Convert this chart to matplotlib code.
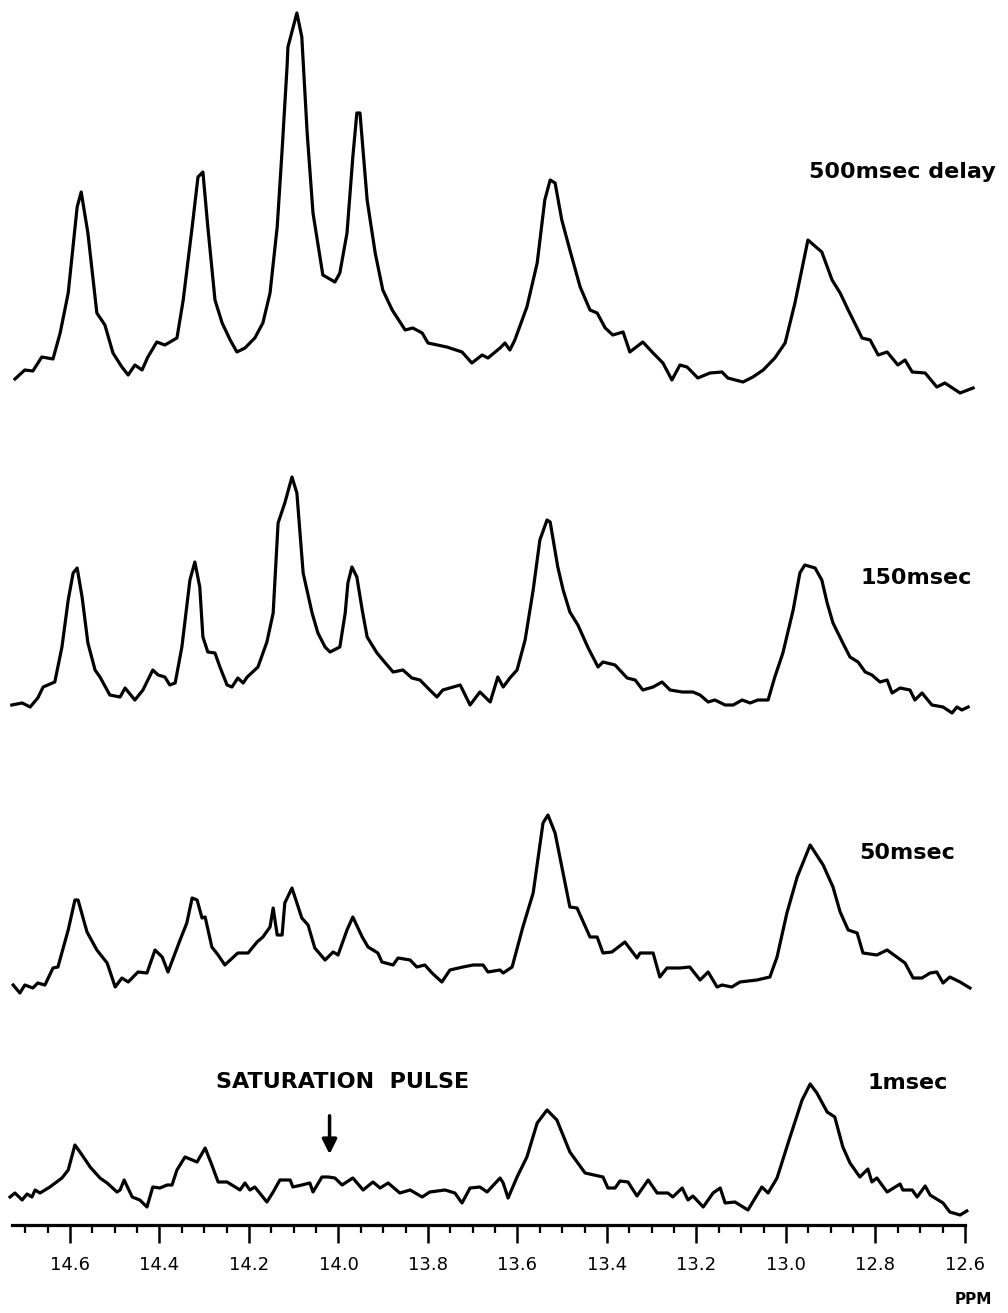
import matplotlib
matplotlib.use("Agg")
import matplotlib.pyplot as plt
from matplotlib.ticker import MultipleLocator, FormatStrFormatter

# chemical shift (ppm) and trace height for each saturation delay
ppm_500 = [14.723, 14.701, 14.683, 14.663, 14.638, 14.622, 14.604, 14.584, 14.575, 14.560,
           14.540, 14.522, 14.504, 14.484, 14.470, 14.455, 14.439, 14.426, 14.406, 14.388,
           14.361, 14.347, 14.327, 14.314, 14.303, 14.292, 14.276, 14.260, 14.242, 14.227,
           14.209, 14.187, 14.169, 14.153, 14.137, 14.126, 14.115, 14.113, 14.093, 14.082,
           14.070, 14.057, 14.035, 14.008, 13.997, 13.981, 13.968, 13.959, 13.952, 13.936,
           13.918, 13.901, 13.880, 13.851, 13.834, 13.813, 13.800, 13.758, 13.724, 13.702,
           13.679, 13.666, 13.639, 13.628, 13.617, 13.606, 13.579, 13.556, 13.539, 13.527,
           13.516, 13.501, 13.483, 13.460, 13.438, 13.422, 13.404, 13.387, 13.364, 13.349,
           13.320, 13.297, 13.275, 13.255, 13.237, 13.221, 13.197, 13.170, 13.143, 13.130,
           13.096, 13.074, 13.051, 13.025, 13.002, 12.980, 12.951, 12.920, 12.897, 12.879,
           12.861, 12.830, 12.812, 12.794, 12.774, 12.750, 12.734, 12.718, 12.689, 12.663,
           12.645, 12.611, 12.582]
int_500 = [11, 20, 19, 33, 31, 57, 97, 183, 198, 157,
           77, 65, 37, 23, 15, 25, 20, 33, 48, 45,
           52, 90, 163, 213, 218, 163, 90, 67, 50, 38,
           42, 52, 67, 97, 163, 240, 323, 343, 377, 353,
           257, 177, 115, 108, 117, 157, 233, 277, 277, 190,
           137, 100, 80, 60, 62, 57, 47, 43, 38, 27,
           35, 32, 42, 47, 40, 50, 83, 127, 190, 210,
           207, 170, 140, 103, 80, 77, 62, 55, 58, 38,
           48, 37, 27, 10, 25, 23, 12, 17, 18, 12,
           8, 13, 20, 32, 47, 87, 150, 138, 110, 97,
           80, 52, 50, 35, 38, 25, 30, 18, 17, 3,
           7, -3, 2]

ppm_150 = [14.730, 14.707, 14.689, 14.672, 14.660, 14.634, 14.618, 14.604, 14.593, 14.584,
           14.573, 14.560, 14.544, 14.533, 14.511, 14.488, 14.477, 14.455, 14.437, 14.415,
           14.403, 14.388, 14.377, 14.365, 14.350, 14.332, 14.321, 14.310, 14.303, 14.292,
           14.276, 14.265, 14.249, 14.238, 14.225, 14.213, 14.204, 14.180, 14.160, 14.146,
           14.135, 14.120, 14.104, 14.093, 14.079, 14.059, 14.046, 14.030, 14.019, 13.997,
           13.985, 13.979, 13.970, 13.959, 13.947, 13.936, 13.914, 13.901, 13.878, 13.856,
           13.836, 13.818, 13.796, 13.780, 13.767, 13.728, 13.706, 13.684, 13.661, 13.644,
           13.632, 13.617, 13.601, 13.583, 13.565, 13.550, 13.534, 13.527, 13.510, 13.498,
           13.483, 13.465, 13.442, 13.420, 13.409, 13.382, 13.355, 13.337, 13.320, 13.297,
           13.277, 13.259, 13.232, 13.208, 13.192, 13.174, 13.159, 13.136, 13.118, 13.098,
           13.080, 13.063, 13.040, 13.025, 13.007, 12.984, 12.969, 12.958, 12.935, 12.920,
           12.908, 12.895, 12.873, 12.857, 12.839, 12.823, 12.808, 12.790, 12.774, 12.763,
           12.745, 12.723, 12.712, 12.696, 12.674, 12.649, 12.629, 12.618, 12.607, 12.593]
int_150 = [5, 7, 3, 12, 23, 28, 63, 110, 137, 142,
           113, 67, 40, 33, 15, 13, 22, 10, 20, 40,
           35, 33, 25, 27, 63, 130, 148, 123, 73, 58,
           57, 43, 25, 23, 32, 27, 33, 43, 68, 97,
           187, 207, 233, 217, 137, 97, 77, 63, 58, 63,
           97, 127, 143, 133, 100, 73, 57, 50, 38, 40,
           32, 30, 20, 13, 20, 25, 5, 18, 8, 33,
           23, 32, 40, 70, 120, 170, 190, 188, 143, 120,
           98, 85, 62, 43, 48, 45, 32, 30, 20, 23,
           28, 20, 18, 18, 15, 8, 10, 5, 5, 10,
           7, 10, 10, 33, 57, 100, 137, 145, 142, 130,
           107, 87, 67, 53, 48, 38, 35, 28, 30, 17,
           22, 20, 10, 17, 5, 3, -3, 3, 0, 3]

ppm_50 = [14.727, 14.712, 14.701, 14.683, 14.672, 14.656, 14.638, 14.627, 14.604, 14.589,
          14.582, 14.562, 14.540, 14.517, 14.499, 14.484, 14.470, 14.448, 14.428, 14.410,
          14.394, 14.381, 14.354, 14.339, 14.327, 14.316, 14.305, 14.298, 14.283, 14.269,
          14.254, 14.225, 14.202, 14.182, 14.169, 14.153, 14.146, 14.137, 14.126, 14.120,
          14.104, 14.082, 14.068, 14.053, 14.030, 14.012, 14.001, 13.981, 13.968, 13.947,
          13.934, 13.912, 13.903, 13.878, 13.867, 13.840, 13.825, 13.807, 13.791, 13.769,
          13.751, 13.722, 13.699, 13.677, 13.666, 13.639, 13.632, 13.612, 13.588, 13.565,
          13.543, 13.532, 13.516, 13.483, 13.467, 13.438, 13.422, 13.409, 13.389, 13.360,
          13.333, 13.326, 13.297, 13.282, 13.266, 13.237, 13.215, 13.192, 13.174, 13.154,
          13.143, 13.121, 13.103, 13.065, 13.036, 13.020, 12.998, 12.975, 12.946, 12.917,
          12.895, 12.879, 12.861, 12.841, 12.828, 12.797, 12.774, 12.734, 12.716, 12.696,
          12.678, 12.663, 12.649, 12.634, 12.611, 12.589]
int_50 = [5, -3, 5, 2, 7, 5, 22, 23, 60, 90,
          90, 58, 40, 27, 3, 12, 8, 18, 17, 40,
          33, 18, 50, 67, 92, 90, 72, 73, 43, 35,
          25, 37, 37, 48, 53, 63, 82, 55, 55, 87,
          102, 72, 65, 42, 30, 38, 35, 60, 73, 53,
          43, 37, 28, 25, 32, 30, 23, 25, 17, 8,
          20, 23, 25, 25, 18, 20, 17, 23, 63, 97,
          167, 175, 157, 83, 82, 53, 53, 37, 38, 48,
          32, 37, 37, 13, 22, 22, 23, 10, 18, 3,
          5, 3, 8, 10, 13, 33, 77, 113, 145, 125,
          103, 78, 60, 57, 37, 35, 40, 27, 12, 12,
          17, 18, 7, 13, 8, 2]

ppm_1 = [14.734, 14.723, 14.707, 14.696, 14.685, 14.678, 14.667, 14.645, 14.618, 14.604,
         14.589, 14.573, 14.555, 14.533, 14.517, 14.495, 14.488, 14.479, 14.461, 14.444,
         14.428, 14.415, 14.399, 14.383, 14.372, 14.361, 14.343, 14.316, 14.298, 14.283,
         14.269, 14.249, 14.220, 14.209, 14.198, 14.187, 14.160, 14.146, 14.131, 14.108,
         14.102, 14.082, 14.064, 14.057, 14.037, 14.023, 14.008, 13.992, 13.968, 13.945,
         13.923, 13.907, 13.889, 13.863, 13.840, 13.813, 13.796, 13.762, 13.740, 13.724,
         13.706, 13.684, 13.668, 13.639, 13.632, 13.621, 13.601, 13.579, 13.556, 13.534,
         13.512, 13.483, 13.449, 13.409, 13.398, 13.382, 13.371, 13.353, 13.333, 13.308,
         13.288, 13.264, 13.253, 13.232, 13.219, 13.208, 13.185, 13.163, 13.147, 13.136,
         13.114, 13.085, 13.054, 13.040, 13.020, 12.991, 12.964, 12.946, 12.931, 12.908,
         12.891, 12.873, 12.857, 12.835, 12.817, 12.808, 12.797, 12.774, 12.745, 12.739,
         12.718, 12.707, 12.689, 12.678, 12.649, 12.634, 12.611, 12.596]
int_1 = [8, 12, 5, 11, 8, 15, 12, 18, 27, 35,
         60, 50, 38, 27, 22, 13, 15, 25, 8, 5,
         -2, 18, 17, 20, 20, 35, 48, 43, 57, 40,
         23, 23, 15, 22, 15, 18, 3, 13, 25, 25,
         18, 20, 22, 13, 28, 28, 27, 20, 27, 15,
         23, 17, 22, 12, 15, 8, 13, 15, 12, 2,
         17, 18, 13, 27, 22, 7, 28, 48, 82, 95,
         85, 53, 32, 28, 17, 17, 24, 23, 9, 25,
         12, 12, 8, 17, 5, 9, -2, 12, 17, 2,
         3, -5, 18, 12, 27, 68, 105, 121, 112, 93,
         88, 58, 42, 28, 36, 23, 27, 13, 21, 15,
         15, 8, 19, 10, 2, -7, -10, -6]

labels = ["500msec delay", "150msec", "50msec", "1msec"]
major_ticks = [14.6, 14.4, 14.2, 14.0, 13.8, 13.6, 13.4, 13.2, 13.0, 12.8, 12.6]
pulse_ppm = 14.02


def main():
    fig = plt.figure(figsize=(10.08, 13.13), dpi=100)
    ax = fig.add_axes([12 / 1008, 88 / 1313, 953 / 1008, 1225 / 1313])

    traces = [(ppm_500, int_500), (ppm_150, int_150), (ppm_50, int_50), (ppm_1, int_1)]
    offsets = [835, 515, 235, 20]
    label_y = [1053, 647, 372, 142]
    label_x = [12.739, 12.709, 12.730, 12.727]

    for (x, y), off, lab, lx, ly in zip(traces, offsets, labels, label_x, label_y):
        ax.plot(x, [v + off for v in y], color="black", lw=2.3,
                solid_joinstyle="round", clip_on=False)
        ax.text(lx, ly, lab, ha="center", va="center", fontsize=16,
                fontweight="bold")

    ax.text(13.992, 143, "SATURATION  PULSE", ha="center", va="center",
            fontsize=16, fontweight="bold")
    ax.annotate("", xy=(pulse_ppm, 68), xytext=(pulse_ppm, 112),
                arrowprops=dict(arrowstyle="-|>", color="black", lw=2.5,
                                mutation_scale=22))

    ax.set_xlim(14.7296, 12.6)
    ax.set_ylim(0, 1225)
    for side in ["top", "right", "left"]:
        ax.spines[side].set_visible(False)
    ax.spines["bottom"].set_linewidth(2.3)
    ax.set_yticks([])
    ax.set_xticks(major_ticks)
    ax.xaxis.set_major_formatter(FormatStrFormatter("%.1f"))
    ax.xaxis.set_minor_locator(MultipleLocator(0.05))
    ax.tick_params(axis="x", which="major", direction="out", length=13,
                   width=1.8, pad=9, labelsize=13)
    ax.tick_params(axis="x", which="minor", direction="out", length=6,
                   width=1.6)
    ax.patch.set_visible(False)

    fig.text(973 / 1008, 1 - 1300 / 1313, "PPM", ha="center", va="center",
             fontsize=11, fontweight="bold")

    fig.savefig("out.png", dpi=100, facecolor="white")


if __name__ == "__main__":
    main()
